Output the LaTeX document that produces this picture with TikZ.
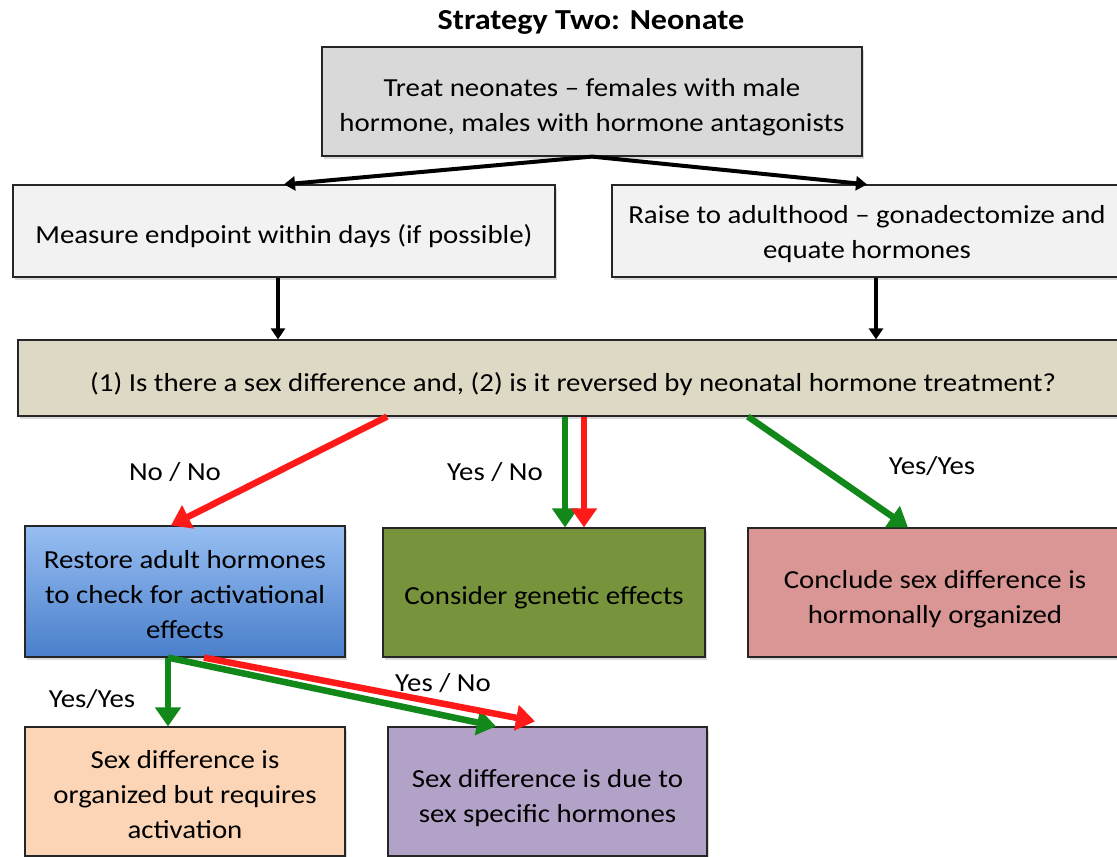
\documentclass[tikz,border=0pt]{standalone}
\usepackage{fontspec}
\setmainfont{Carlito}[FakeStretch=1.11]
\usetikzlibrary{arrows.meta,shadows}

\definecolor{treatgray}{HTML}{D9D9D9}
\definecolor{palegray}{HTML}{F2F2F2}
\definecolor{questan}{HTML}{DDD9C4}
\definecolor{bluetop}{HTML}{97BEF2}
\definecolor{bluebot}{HTML}{4A7FCB}
\definecolor{genegreen}{HTML}{77933C}
\definecolor{rosy}{HTML}{D99694}
\definecolor{peach}{HTML}{FBD5B5}
\definecolor{lilac}{HTML}{B3A2C7}
\definecolor{arrred}{HTML}{FF1A1A}
\definecolor{arrgreen}{HTML}{12871A}

\begin{document}
\begin{tikzpicture}[x=1pt, y=-1pt, font=\fontsize{26}{35}\selectfont,
			box/.style={draw=black!85, line width=1.2pt, inner sep=0pt,
				drop shadow={opacity=0.3, shadow xshift=2pt, shadow yshift=-3pt}},
			txt/.style={align=center, inner sep=0pt},
			word/.style={inner sep=0pt},
			blk/.style={line width=4pt, -{Triangle[length=11pt, width=14pt]}},
			go/.style={arrgreen, line width=6.5pt, -{Triangle[length=19pt, width=25pt]}},
			nogo/.style={arrred, line width=6.5pt, -{Triangle[length=19pt, width=25pt]}}]

			\useasboundingbox (0,0) rectangle (1117,857);

			\node[word, font=\bfseries\fontsize{29}{34}\selectfont] (title) at (591,22) {Strategy Two: Neonate};

			% boxes
			\node[box, fill=treatgray, minimum width=540pt, minimum height=109pt] (treat) at (592,101.5) {};
			\node[box, fill=palegray, minimum width=542pt, minimum height=92pt] (measure) at (284,231) {};
			\node[box, fill=palegray, minimum width=510pt, minimum height=92pt] (raise) at (867,231) {};
			\node[box, fill=questan, minimum width=1110pt, minimum height=76pt] (q) at (573,378) {};
			\node[box, top color=bluetop, bottom color=bluebot, minimum width=320pt, minimum height=131pt] (restore) at (185,591.5) {};
			\node[box, fill=genegreen, minimum width=322pt, minimum height=129pt] (genetic) at (544,592.5) {};
			\node[box, fill=rosy, minimum width=374pt, minimum height=129pt] (conclude) at (935,592.5) {};
			\node[box, fill=peach, minimum width=320pt, minimum height=129pt] (organized) at (185,791.5) {};
			\node[box, fill=lilac, minimum width=319pt, minimum height=129pt] (specific) at (547.5,791.5) {};

			% box texts
			\node[txt] (treat-t) at ([yshift=-6pt]treat.center) {Treat neonates -- females with male\\hormone, males with hormone antagonists};
			\node[txt] (measure-t) at ([yshift=-5pt]measure.center) {Measure endpoint within days (if possible)};
			\node[txt] (raise-t) at ([yshift=-3pt]raise.center) {Raise to adulthood -- gonadectomize and\\equate hormones};
			\node[txt] (q-t) at ([yshift=-6pt]q.center) {(1) Is there a sex difference and, (2) is it reversed by neonatal hormone treatment?};
			\node[txt] (restore-t) at ([yshift=-3pt]restore.center) {Restore adult hormones\\to check for activational\\effects};
			\node[txt] (genetic-t) at ([yshift=-5pt]genetic.center) {Consider genetic effects};
			\node[txt] (conclude-t) at ([yshift=-7pt]conclude.center) {Conclude sex difference is\\hormonally organized};
			\node[txt] (organized-t) at ([yshift=-3pt]organized.center) {Sex difference is\\organized but requires\\activation};
			\node[txt] (specific-t) at ([yshift=-7pt]specific.center) {Sex difference is due to\\sex specific hormones};

			% answers
			\node[word] (nono) at (175,472) {No / No};
			\node[word] (yesno) at (495,472) {Yes / No};
			\node[word] (yesyes) at (932,466) {Yes/Yes};
			\node[word] (yesyes2) at (92,699) {Yes/Yes};
			\node[word] (yesno2) at (443,683) {Yes / No};

			\draw[blk] (treat.south) to (measure.north);
			\draw[blk] (treat.south) to (raise.north);
			\draw[blk] (measure.south -| 278,0) to (q.north -| 278,0);
			\draw[blk] (raise.south -| 876,0) to (q.north -| 876,0);

			\draw[nogo] (q.south -| 387,0) to (restore.north -| 171,0);
			\draw[go] (q.south -| 565,0) to (genetic.north -| 565,0);
			\draw[nogo] (q.south -| 584,0) to (genetic.north -| 584,0);
			\draw[go] (q.south -| 748,0) to (conclude.north -| 908,0);

			\draw[go] (restore.south -| 168,0) to (organized.north -| 168,0);
			\draw[go] (restore.south -| 168,0) to (specific.north -| 496,0);
			\draw[nogo] (restore.south -| 204,0) to ([yshift=5pt]specific.north -| 535,0);

		\end{tikzpicture}
\end{document}
